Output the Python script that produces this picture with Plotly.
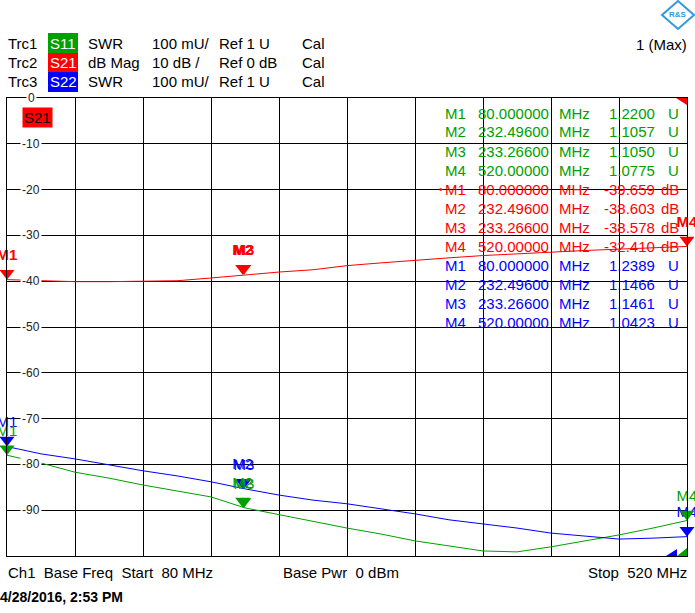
import plotly.graph_objects as go

# sweep points (MHz) and trace values
freq = [80, 102, 124, 146, 168, 190, 212, 234, 256, 278, 300,
        322, 344, 366, 388, 410, 432, 454, 476, 498, 520]
s21_db = [-39.66, -39.9, -40.1, -40.1, -40.05, -39.9, -39.3, -38.6, -38.0, -37.5, -36.6,
          -36.0, -35.4, -34.9, -34.4, -34.0, -33.6, -33.3, -33.0, -32.7, -32.41]
s11_swr = [1.220, 1.203, 1.183, 1.170, 1.155, 1.142, 1.129, 1.105, 1.090, 1.076, 1.061,
           1.048, 1.033, 1.022, 1.011, 1.009, 1.020, 1.033, 1.046, 1.061, 1.0775]
s22_swr = [1.2389, 1.223, 1.212, 1.199, 1.186, 1.175, 1.162, 1.1466, 1.133, 1.122, 1.114,
           1.103, 1.092, 1.079, 1.070, 1.061, 1.050, 1.044, 1.037, 1.039, 1.0423]

# markers
mk_names = ["M1", "M2", "M3", "M4"]
mk_freq = [80.0, 232.496, 233.266, 520.0]
mk_freq_txt = ["80.000000", "232.49600", "233.26600", "520.00000"]
s11_mk = [1.2200, 1.1057, 1.1050, 1.0775]
s21_mk = [-39.659, -38.603, -38.578, -32.410]
s22_mk = [1.2389, 1.1466, 1.1461, 1.0423]

y_ticks = [0, -10, -20, -30, -40, -50, -60, -70, -80, -90]

GREEN = "#00a000"
RED = "#ff0000"
BLUE = "#0000ff"
FONT = "Arial, Liberation Sans, sans-serif"

# plot area in pixels
W_FIG, H_FIG = 695, 613
L, R, T, B = 7, 687, 98, 556
PAD = 2  # annotation inner padding, compensated for text placement


def px(x):
    return (x - L) / (R - L)


def py(y):
    return (B - y) / (B - T)


MK_SIZE = 13
db_off = MK_SIZE / 2 * 100 / (B - T)
swr_off = MK_SIZE / 2 * 1 / (B - T)

fig = go.Figure()

fig.add_trace(go.Scatter(x=freq, y=s11_swr, yaxis="y2", mode="lines",
                         line=dict(color=GREEN, width=1), hoverinfo="skip"))
fig.add_trace(go.Scatter(x=freq, y=s21_db, mode="lines",
                         line=dict(color=RED, width=1), hoverinfo="skip"))
fig.add_trace(go.Scatter(x=freq, y=s22_swr, yaxis="y2", mode="lines",
                         line=dict(color=BLUE, width=1), hoverinfo="skip"))


def marker_trace(vals, off, col, yaxis, bold=False):
    # triangle tip sits on the trace value, label above
    return go.Scatter(x=mk_freq, y=[v + off for v in vals],
                      yaxis=yaxis, mode="markers+text",
                      marker=dict(symbol="triangle-down", size=MK_SIZE, color=col),
                      text=mk_names, textposition="top center",
                      textfont=dict(color=col, size=15, family=FONT,
                                    weight="bold" if bold else "normal"),
                      cliponaxis=False, hoverinfo="skip")


fig.add_trace(marker_trace(s21_mk, db_off, RED, "y", bold=True))
fig.add_trace(marker_trace(s22_mk, swr_off, BLUE, "y2"))
fig.add_trace(marker_trace(s11_mk, swr_off, GREEN, "y2"))

ann = []


def txt(x, y, s, color="black", anchor="left", size=15, **kw):
    if anchor == "left":
        x -= PAD
    elif anchor == "right":
        x += PAD
    ann.append(dict(x=px(x), y=py(y), xref="paper", yref="paper", text=s, showarrow=False,
                    xanchor=anchor, yanchor="middle",
                    font=dict(color=color, size=size, family=FONT), **kw))


# y tick labels inside the grid
for v in y_ticks:
    yy = T + (-v) / 100 * (B - T)
    txt(31, yy, str(v), color="#222222", anchor="center", size=12, bgcolor="white", borderpad=1)

# header
rows = [("Trc1", "S11", GREEN, "SWR", "100 mU/", "Ref 1 U"),
        ("Trc2", "S21", RED, "dB Mag", "10 dB /", "Ref 0 dB"),
        ("Trc3", "S22", BLUE, "SWR", "100 mU/", "Ref 1 U")]
shapes = []
box_tops = [33, 53, 72, 92]
for i, (trc, sp, col, fmt, scale, ref) in enumerate(rows):
    yc = (box_tops[i] + box_tops[i + 1]) / 2
    shapes.append(dict(type="rect", xref="paper", yref="paper", x0=px(48), x1=px(78),
                       y0=py(box_tops[i]), y1=py(box_tops[i + 1]), fillcolor=col, line_width=0))
    txt(8, yc, trc)
    txt(63, yc, sp, color="white", anchor="center")
    txt(88, yc, fmt)
    txt(152, yc, scale)
    txt(219, yc, ref)
    txt(302, yc, "Cal")
txt(687, 44, "1 (Max)", anchor="right")

# S21 label in the diagram
txt(22 + PAD, 117, "S21", color="#200000", bgcolor=RED, borderpad=1)

# marker table
row_y = 113
for vals, col, fmt, unit in [(s11_mk, GREEN, "{:.4f}", "U"),
                             (s21_mk, RED, "{:.3f}", "dB"),
                             (s22_mk, BLUE, "{:.4f}", "U")]:
    for name, ft, v in zip(mk_names, mk_freq_txt, vals):
        txt(445, row_y, name, color=col)
        txt(478, row_y, ft, color=col)
        txt(559, row_y, "MHz", color=col)
        txt(655, row_y, fmt.format(v), color=col, anchor="right")
        txt(679, row_y, unit, color=col, anchor="right")
        if col == RED and name == "M1":
            txt(443, row_y, "•", color=col, anchor="right", size=10)
        row_y += 19

# footer
txt(8, 572, "Ch1  Base Freq  Start  80 MHz")
txt(283, 572, "Base Pwr  0 dBm")
txt(687, 572, "Stop  520 MHz", anchor="right")
txt(0, 597, "<b>4/28/2016, 2:53 PM</b>", size=14)


def path(points):
    return "M " + " L ".join(f"{px(a):.5f},{py(b):.5f}" for a, b in points) + " Z"


# small range indicators
shapes.append(dict(type="path", xref="paper", yref="paper", path=path([(676, 98), (687, 98), (687, 105)]),
                   fillcolor=RED, line_width=0))
shapes.append(dict(type="path", xref="paper", yref="paper", path=path([(666, 556), (677, 556), (677, 549)]),
                   fillcolor=BLUE, line_width=0))
shapes.append(dict(type="path", xref="paper", yref="paper", path=path([(677, 556), (687, 556), (687, 548)]),
                   fillcolor=GREEN, line_width=0))

# logo
shapes.append(dict(type="path", xref="paper", yref="paper",
                   path=path([(678, 1), (694, 15), (678, 29), (662, 15)]),
                   fillcolor="white", line=dict(color="#3399dd", width=2)))
txt(678, 15, "<b>R&S</b>", color="#3399dd", anchor="center", size=8)

fig.update_layout(
    width=W_FIG, height=H_FIG,
    margin=dict(l=L, r=W_FIG - R, t=T, b=H_FIG - B),
    paper_bgcolor="white", plot_bgcolor="white",
    showlegend=False,
    xaxis=dict(range=[80, 520], tick0=80, dtick=44, showgrid=True, gridcolor="black", gridwidth=1.2,
               showticklabels=False, ticks="", zeroline=False,
               showline=True, linecolor="black", linewidth=1.2, mirror=True),
    yaxis=dict(range=[-100, 0], tick0=0, dtick=10, showgrid=True, gridcolor="black", gridwidth=1.2,
               showticklabels=False, ticks="", zeroline=False,
               showline=True, linecolor="black", linewidth=1.2, mirror=True),
    yaxis2=dict(range=[1.0, 2.0], overlaying="y", visible=False),
    annotations=ann,
    shapes=shapes,
)

# the page body has a default margin; drop it so the figure sits at the window corner
fig.write_html("out.html", config={"displayModeBar": False},
               post_script="document.body.style.margin = '0px';")
